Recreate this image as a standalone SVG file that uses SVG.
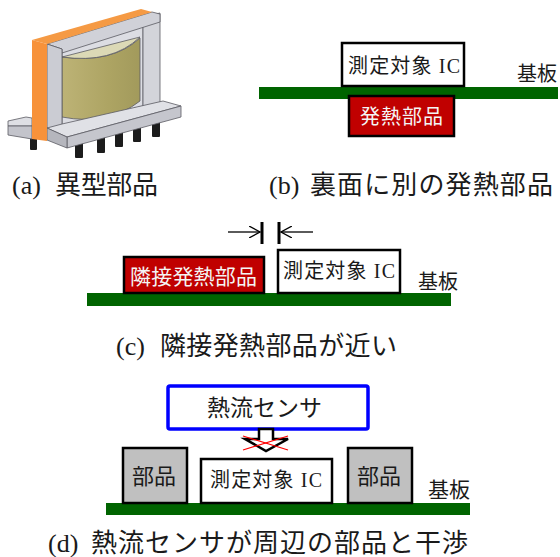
<svg xmlns="http://www.w3.org/2000/svg" width="560" height="557" viewBox="0 0 560 557">
  <defs>
    <linearGradient id="coilGrad" x1="0" y1="0" x2="1" y2="0">
      <stop offset="0" stop-color="#bdb376"/>
      <stop offset="0.6" stop-color="#ada463"/>
      <stop offset="1" stop-color="#a29a5c"/>
    </linearGradient>
    <marker id="openHead" viewBox="0 0 12 12" refX="11" refY="6" markerWidth="12" markerHeight="12" markerUnits="userSpaceOnUse" orient="auto">
      <path d="M0,0 L11,6 L0,12" fill="none" stroke="#000" stroke-width="1.3"/>
    </marker>
  </defs>
  <style>
    text { font-family: "Liberation Serif", "Noto Sans CJK JP", serif; fill: #1a1a1a; }
    .cap { font-size: 26px; }
    .lbl { font-size: 20px; }
    .board { fill: #006400; }
    .box { stroke: #000; stroke-width: 2.5; }
    .ic { fill: #fff; }
    .hot { fill: #c00000; }
    .part { fill: #c0c0c0; }
    .pin { fill: #1c1c1c; }
    .edge { stroke: #5a5a62; stroke-width: 0.8; stroke-linejoin: round; }
  </style>

  <!-- (a) odd-form component: transformer on a pin base -->
  <g id="transformer">
    <!-- pins -->
    <rect class="pin" x="30" y="134" width="7" height="16" rx="1"/>
    <rect class="pin" x="75" y="140" width="8" height="18" rx="1"/>
    <rect class="pin" x="97" y="136" width="8" height="17" rx="1"/>
    <rect class="pin" x="115" y="131" width="8" height="16" rx="1"/>
    <rect class="pin" x="133" y="126" width="8" height="16" rx="1"/>
    <rect class="pin" x="152" y="121" width="8" height="16" rx="1"/>
    <!-- rear panel of the frame -->
    <polygon class="edge" points="62,50 143,22 143,106 62,128" fill="#dcdde3"/>
    <!-- coil -->
    <path class="edge" d="M62,57 Q112,64 140,38 L140,101 Q108,126 62,117 Z" fill="url(#coilGrad)" stroke="#5e5838"/>
    <path class="edge" d="M62,57 L140,37 Q112,64 62,57 Z" fill="#dcd9b6" stroke="#5e5838"/>
    <!-- right post -->
    <polygon class="edge" points="143,17 160,13 160,103 143,108" fill="#d3d4da"/>
    <!-- top bar -->
    <polygon class="edge" points="47,44 152,12 160,14 160,22 62,53 62,49" fill="#d0d1d8"/>
    <!-- left post -->
    <polygon class="edge" points="47,44 62,49 62,131 47,131" fill="#cbccd3"/>
    <!-- base slab, left end -->
    <polygon class="edge" points="8,121 26,117 32,118 32,126 8,126" fill="#dedfe4"/>
    <polygon class="edge" points="8,126 32,126 32,139 8,135" fill="#c3c4cb"/>
    <!-- base slab, main part -->
    <polygon class="edge" points="47,128 62,124 163,101 181,106 67,137" fill="#e0e1e6"/>
    <polygon class="edge" points="67,137 181,106 181,117 67,148" fill="#c5c6cd"/>
    <polygon class="edge" points="47,128 67,137 67,148 47,140" fill="#b5b6bd"/>
    <!-- orange plate edge -->
    <polygon points="32,40 141,9 152,12 47,44" fill="#f59a44"/>
    <polygon points="32,40 47,44 47,141 32,139" fill="#f7923a"/>
  </g>
  <text class="cap" x="12" y="194">(a)<tspan x="55" textLength="103">異型部品</tspan></text>

  <!-- (b) heat source on the reverse side -->
  <g id="b-board"><rect class="board" x="259" y="87" width="299" height="12"/></g>
  <g id="b-ic">
    <rect class="box ic" x="342" y="43" width="122" height="43"/>
    <text class="lbl" x="348" y="73" textLength="112">測定対象 IC</text>
  </g>
  <g id="b-heat">
    <rect class="box hot" x="349" y="96" width="105" height="40"/>
    <text class="lbl" x="360" y="124" textLength="83" style="fill:#f4f4f4">発熱部品</text>
  </g>
  <text class="lbl" x="517" y="81">基板</text>
  <text class="cap" x="269" y="194">(b)<tspan x="310" textLength="243">裏面に別の発熱部品</tspan></text>

  <!-- (c) adjacent heat source too close -->
  <g id="c-board"><rect class="board" x="87" y="293" width="364" height="13"/></g>
  <g id="c-heat">
    <rect class="box hot" x="124" y="257" width="140" height="36"/>
    <text class="lbl" x="130" y="284" textLength="127" style="fill:#f4f4f4;font-size:21px">隣接発熱部品</text>
  </g>
  <g id="c-ic">
    <rect class="box ic" x="278" y="250" width="122" height="43"/>
    <text class="lbl" x="283" y="278" textLength="112">測定対象 IC</text>
  </g>
  <text class="lbl" x="418" y="289">基板</text>
  <g id="c-gap">
    <line x1="262" y1="222" x2="262" y2="244" stroke="#000" stroke-width="3"/>
    <line x1="279" y1="222" x2="279" y2="244" stroke="#000" stroke-width="3"/>
    <line x1="228" y1="232" x2="260" y2="232" stroke="#000" stroke-width="1.3" marker-end="url(#openHead)"/>
    <line x1="313" y1="232" x2="281" y2="232" stroke="#000" stroke-width="1.3" marker-end="url(#openHead)"/>
  </g>
  <text class="cap" x="116" y="355">(c)<tspan x="160" textLength="237">隣接発熱部品が近い</tspan></text>

  <!-- (d) heat-flux sensor interferes with neighbouring parts -->
  <g id="d-board"><rect class="board" x="106" y="503" width="364" height="12"/></g>
  <g id="d-sensor">
    <rect x="168" y="386" width="200" height="43" rx="2" fill="#fff" stroke="#0000ff" stroke-width="3.5"/>
    <text x="207" y="416" textLength="115" style="font-size:23px">熱流センサ</text>
  </g>
  <g id="d-flow">
    <polygon points="259,429 273,429 273,439 288,439 266,451 245,439 259,439" fill="#fff" stroke="#000" stroke-width="2.5" stroke-linejoin="miter"/>
    <line x1="243" y1="436" x2="288" y2="450" stroke="#ff0000" stroke-width="1.2"/>
    <line x1="243" y1="450" x2="288" y2="436" stroke="#ff0000" stroke-width="1.2"/>
  </g>
  <g id="d-part-left">
    <rect class="box part" x="123" y="448" width="64" height="55"/>
    <text x="132" y="484" style="font-size:22px">部品</text>
  </g>
  <g id="d-ic">
    <rect class="box ic" x="201" y="459" width="131" height="44"/>
    <text class="lbl" x="210" y="487" textLength="112">測定対象 IC</text>
  </g>
  <g id="d-part-right">
    <rect class="box part" x="348" y="448" width="64" height="55"/>
    <text x="357" y="484" style="font-size:22px">部品</text>
  </g>
  <text x="428" y="497" style="font-size:21px">基板</text>
  <text class="cap" x="48" y="552">(d)<tspan x="91" textLength="377">熱流センサが周辺の部品と干渉</tspan></text>
</svg>
